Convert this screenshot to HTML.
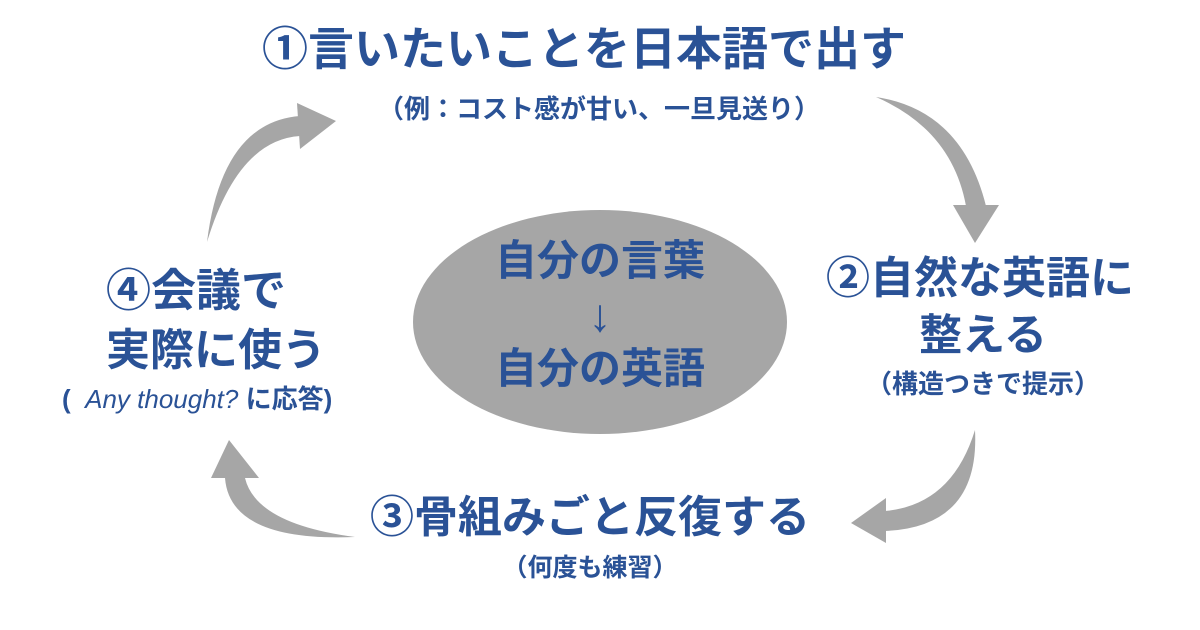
<!DOCTYPE html>
<html><head><meta charset="utf-8"><style>
html,body{margin:0;padding:0;background:#fff}
.w{position:relative;width:1200px;height:630px;overflow:hidden;font-family:"Liberation Sans","Noto Sans CJK JP",sans-serif;color:#2a5296;font-weight:bold}
.t{position:absolute;white-space:nowrap;text-align:center;line-height:1}
</style></head><body><div class="w">
<svg width="1200" height="630" style="position:absolute;left:0;top:0">
<g fill="#a6a6a6">
<ellipse cx="600" cy="322" rx="187" ry="112"/>
<path d="M876,97 Q962,110 986,206 L966,206 Q952,130 876,97 Z"/>
<polygon points="953,205 999,205 975,243"/>
<path d="M207,242 Q222,122 300,116 L300,136 Q238,140 207,242 Z"/>
<polygon points="297,103 336,121 300,149"/>
<path d="M975,430 Q980,527 885,531 L885,511 Q952,505 975,430 Z"/>
<polygon points="886,498 851,523 886,543"/>
<path d="M355,537 Q230,542 225,478 L245,478 Q256,524 355,537 Z"/>
<polygon points="211,478 259,478 229,440"/>
</g></svg>
<div class="t" style="left:262px;top:26px;font-size:46px">①言いたいことを日本語で出す</div>
<div class="t" style="left:0;width:1198px;top:96px;font-size:26px">（例：コスト感が甘い、一旦見送り）</div>
<div class="t" style="left:413px;width:374px;top:240px;font-size:42px">自分の言葉</div>
<div class="t" style="left:413px;width:374px;top:292px;font-size:46px">↓</div>
<div class="t" style="left:413px;width:374px;top:348px;font-size:42px">自分の英語</div>
<div class="t" style="left:826px;top:257px;font-size:44px">②自然な英語に</div>
<div class="t" style="left:826px;width:314px;top:315px;font-size:43px">整える</div>
<div class="t" style="left:826px;width:314px;top:371px;font-size:26px">（構造つきで提示）</div>
<div class="t" style="left:370px;top:496px;font-size:44px">③骨組みごと反復する</div>
<div class="t" style="left:372px;width:436px;top:556px;font-size:25px">（何度も練習）</div>
<div class="t" style="left:106px;top:268px;font-size:45px;text-align:left">④会議で</div>
<div class="t" style="left:106px;top:329px;font-size:44px;text-align:left">実際に使う</div>
<div class="t" style="left:62px;top:386px;font-size:26px;text-align:left">(&nbsp;&nbsp;<i style="font-weight:normal">Any thought?</i> に応答)</div>
</div></body></html>
